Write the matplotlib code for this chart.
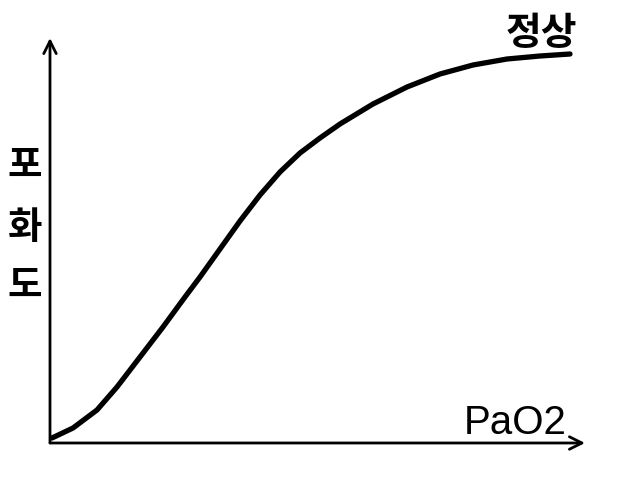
import matplotlib
matplotlib.use("Agg")
import matplotlib.pyplot as plt

# Curve data (arbitrary units: PaO2 vs saturation)
pao2 = [2, 23, 47, 67, 90, 113, 135, 150, 170, 190, 210, 230, 250, 270, 290, 323, 357, 390, 423, 457, 490, 520]
sat = [2, 12, 30, 53, 83, 113, 143, 163, 191, 219, 245, 268, 287, 302, 316, 336, 353, 366, 375, 381, 384, 386]
y_label_chars = ["포", "화", "도"]
x_label = "PaO2"
curve_label = "정상"

fig = plt.figure(figsize=(6.4, 4.8), dpi=100)
ax = fig.add_axes([50/640, 40/480, 545/640, 402/480])
ax.set_xlim(0, 545)
ax.set_ylim(0, 402)
ax.axis("off")

# axes with open arrowheads
ax.annotate("", xy=(535, -3), xytext=(0, -3),
            arrowprops=dict(arrowstyle="->,head_length=0.9,head_width=0.45", lw=2, color="black",
                            shrinkA=0, shrinkB=0), annotation_clip=False)
ax.annotate("", xy=(0, 402), xytext=(0, -3),
            arrowprops=dict(arrowstyle="->,head_length=0.9,head_width=0.45", lw=2, color="black",
                            shrinkA=0, shrinkB=0), annotation_clip=False)

ax.plot(pao2, sat, color="black", lw=3.8, solid_capstyle="round", solid_joinstyle="round", clip_on=False)

ys = [275, 213, 155]
for ch, yv in zip(y_label_chars, ys):
    ax.text(-25, yv, ch, fontsize=27, family=["Noto Sans CJK KR"], fontweight="bold",
            ha="center", va="center")

ax.text(465, 17, x_label, fontsize=29, family=["Liberation Sans"], ha="center", va="center")
ax.text(491, 406, curve_label, fontsize=28, family=["Noto Sans CJK KR"], fontweight="bold",
        ha="center", va="center")

fig.savefig("out.png", dpi=100, facecolor="white")
